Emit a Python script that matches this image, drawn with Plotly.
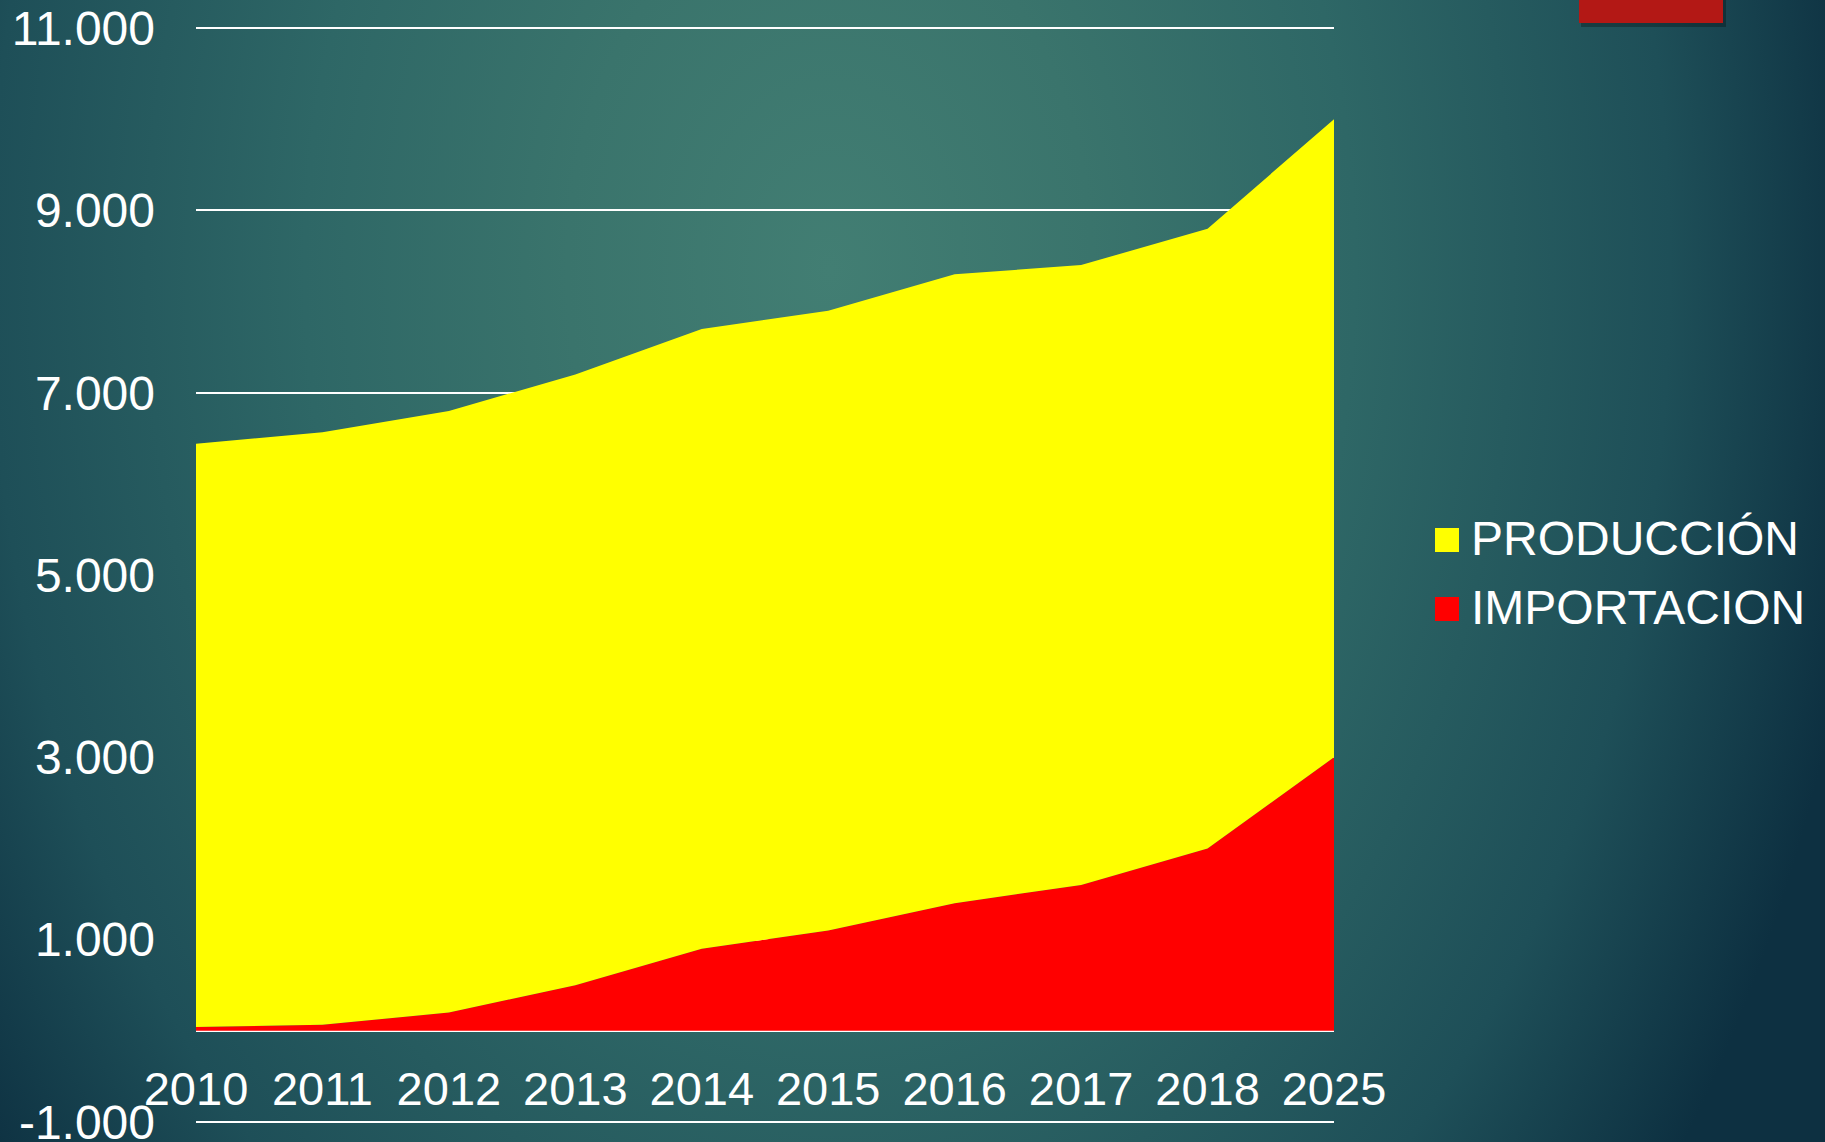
import base64
import plotly.graph_objects as go

# ---- data ----
years = ["2010", "2011", "2012", "2013", "2014", "2015", "2016", "2017", "2018", "2025"]
importacion = [40, 65, 200, 500, 900, 1100, 1400, 1600, 2000, 3000]
produccion = [6400, 6500, 6600, 6700, 6800, 6800, 6900, 6800, 6800, 7000]
y_tickvals = [-1000, 1000, 3000, 5000, 7000, 9000, 11000]
y_ticktext = ["-1.000", "1.000", "3.000", "5.000", "7.000", "9.000", "11.000"]
series_names = ["PRODUCCIÓN", "IMPORTACION"]
series_colors = ["#FFFF00", "#FF0000"]

W, H = 1825, 1142
Y_LO, Y_HI = -1012, 11012
PX_PER_UNIT = 1094 / 12000
ML, MR = 196, 491
MT = round(28 - (Y_HI - 11000) * PX_PER_UNIT)
MB = round(H - 1122 - (-1000 - Y_LO) * PX_PER_UNIT)
PW, PH = W - ML - MR, H - MT - MB


def px(x):
    return (x - ML) / PW


def py(y):
    return (H - MB - y) / PH


FONT = "Liberation Sans, Arial, sans-serif"

fig = go.Figure()
fig.add_trace(go.Scatter(x=years, y=importacion, name=series_names[1], stackgroup="one",
                         mode="none", fillcolor=series_colors[1], showlegend=False,
                         hoverinfo="x+y+name"))
fig.add_trace(go.Scatter(x=years, y=produccion, name=series_names[0], stackgroup="one",
                         mode="none", fillcolor=series_colors[0], showlegend=False,
                         hoverinfo="x+y+name"))

svg = f'''<svg xmlns="http://www.w3.org/2000/svg" width="{W}" height="{H}" viewBox="0 0 {W} {H}" preserveAspectRatio="none">
<defs><radialGradient id="g" gradientUnits="userSpaceOnUse" cx="0" cy="0" r="1"
 gradientTransform="translate(830 270) scale(1050 1500)">
<stop offset="0" stop-color="#427e73"/>
<stop offset="0.25" stop-color="#3a746c"/>
<stop offset="0.5" stop-color="#2e6766"/>
<stop offset="0.8" stop-color="#1e4f58"/>
<stop offset="1" stop-color="#0d3041"/>
</radialGradient></defs>
<rect x="0" y="0" width="{W}" height="{H}" fill="url(#g)"/>
</svg>'''
src = "data:image/svg+xml;base64," + base64.b64encode(svg.encode()).decode()

shapes = []
# decorative red tab at top right (with shadow)
shapes.append(dict(type="rect", xref="paper", yref="paper", x0=px(1581), x1=px(1726), y0=py(27), y1=py(0),
                   fillcolor="rgba(0,0,0,0.28)", line=dict(width=0), layer="above"))
shapes.append(dict(type="rect", xref="paper", yref="paper", x0=px(1579), x1=px(1723), y0=py(23), y1=py(0),
                   fillcolor="#B31815", line=dict(width=0), layer="above"))

annotations = []
legend_rows = [538, 607]
for name, color, cy in zip(series_names, series_colors, legend_rows):
    shapes.append(dict(type="rect", xref="paper", yref="paper", x0=px(1435), x1=px(1459),
                       y0=py(cy + 14), y1=py(cy - 10), fillcolor=color, line=dict(width=0)))
    annotations.append(dict(text=name, xref="paper", yref="paper", x=px(1469), y=py(cy),
                            xanchor="left", yanchor="middle", showarrow=False,
                            font=dict(family=FONT, size=48, color="white")))

fig.update_layout(
    width=W, height=H,
    margin=dict(l=ML, r=MR, t=MT, b=MB, autoexpand=False),
    paper_bgcolor="#1d4e58", plot_bgcolor="rgba(0,0,0,0)",
    images=[dict(source=src, xref="paper", yref="paper", x=px(0), y=py(0),
                 sizex=W / PW, sizey=H / PH, sizing="stretch", layer="below",
                 xanchor="left", yanchor="top")],
    shapes=shapes, annotations=annotations,
    showlegend=False,
    xaxis=dict(type="category", range=[0, 9], anchor="free",
               position=(0 - Y_LO) / (Y_HI - Y_LO), automargin=False,
               showgrid=False, zeroline=False, showline=False, ticks="",
               tickfont=dict(family=FONT, size=47, color="white"), ticklabelstandoff=26),
    yaxis=dict(range=[Y_LO, Y_HI], tickvals=y_tickvals, ticktext=y_ticktext,
               automargin=False, ticklabeloverflow="allow",
               showgrid=True, gridcolor="white", gridwidth=2,
               zeroline=True, zerolinecolor="white", zerolinewidth=2.5,
               showline=False, ticks="", ticklabelstandoff=40,
               tickfont=dict(family=FONT, size=48, color="white")),
)

fig.write_html("out.html", config={"displayModeBar": False},
               post_script="document.body.style.margin='0';document.body.style.overflow='hidden';")
